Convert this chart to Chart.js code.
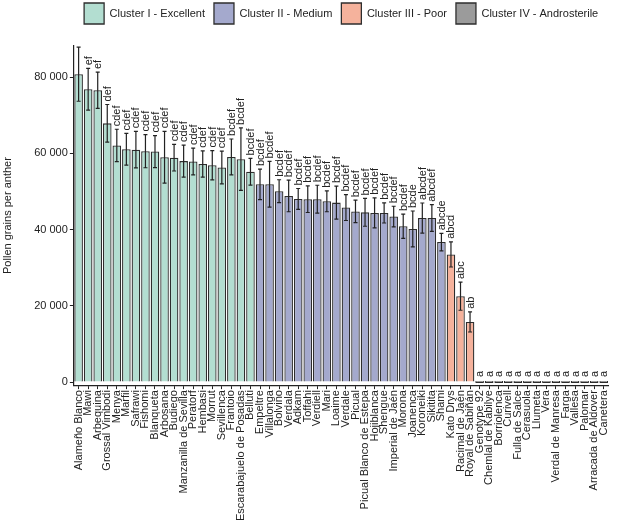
<!DOCTYPE html>
<html>
<head>
<meta charset="utf-8">
<script src="https://cdn.jsdelivr.net/npm/chart.js@4.4.1/dist/chart.umd.min.js"></script>
<style>
  body { margin: 0; background: #fff; }
  #wrap { width: 618px; height: 524px; }
</style>
</head>
<body>
<div id="wrap"><canvas id="pollenChart" width="618" height="524"></canvas></div>
<script>
// Cultivares (ordem do gráfico)
const cultivars = [
  'Alameño Blanco', 'Mawi', 'Arbequina', 'Grossal Vimbodi', 'Menya', 'Marfil', 'Safrawi', 'Fishomi',
  'Blanqueta', 'Arbosana', 'Budiego', 'Manzanilla de Sevilla', 'Peratorf', 'Hembasi', 'Morrut',
  'Sevillenca', 'Frantoio', 'Escarabajuelo de Posadas', 'Belluti',
  'Empeltre', 'Villalonga', 'Bolvino', 'Verdala', 'Adkam', 'Toffahi', 'Verdiell', 'Mari', 'Loaime',
  'Verdale', 'Picual', 'Picual Blanco de Estepa', 'Hojiblanca', 'Shengue', 'Imperial de Jaén',
  'Morona', 'Joanenca', 'Koroneiki', 'Sikitita', 'Shami',
  'Kato Drys', 'Racimal de Jaén', 'Royal de Sabiñán',
  'Genotype 92', 'Chemlal de Kabilye', 'Borriolenca', 'Curivell', 'Fulla de Salce', 'Cerasuola',
  'Llumeta', 'Vera', 'Verdal de Manresa', 'Farga', 'Vallesa', 'Palomar', 'Arracada de Aldover', 'Canetera'
];

// Cluster de cada cultivar (0 = I, 1 = II, 2 = III, 3 = IV)
const clusterOf = [
  0, 0, 0, 0, 0, 0, 0, 0, 0, 0, 0, 0, 0, 0, 0, 0, 0, 0, 0,
  1, 1, 1, 1, 1, 1, 1, 1, 1, 1, 1, 1, 1, 1, 1, 1, 1, 1, 1, 1,
  2, 2, 2,
  3, 3, 3, 3, 3, 3, 3, 3, 3, 3, 3, 3, 3, 3
];

// Média de grãos de pólen por antera
const means = [
  80800, 76850, 76600, 67900, 62100, 61100, 61000, 60600, 60500, 59000, 58900, 58000, 57900, 57250,
  56900, 56300, 59100, 58500, 55200,
  51900, 51900, 50100, 48850, 48050, 48000, 48000, 47450, 47100, 45800, 44800, 44550, 44400, 44400,
  43450, 40900, 40200, 43050, 43050, 36750,
  33500, 22550, 15800,
  0, 0, 0, 0, 0, 0, 0, 0, 0, 0, 0, 0, 0, 0
];

// Barras de erro (±)
const errors = [
  7100, 5500, 4750, 4950, 4250, 4150, 4800, 4350, 4200, 6800, 3500, 4200, 3500, 3450,
  3850, 4300, 4700, 8200, 3500,
  4000, 6000, 3000, 4150, 2750, 3500, 3650, 2750, 4350, 3400, 2950, 3650, 3950, 2650,
  2700, 3200, 4700, 3950, 3500, 2300,
  3300, 3700, 2650,
  0, 0, 0, 0, 0, 0, 0, 0, 0, 0, 0, 0, 0, 0
];

// Letras de significância
const letters = [
  'f', 'ef', 'ef', 'def', 'cdef', 'cdef', 'cdef', 'cdef', 'cdef', 'cdef', 'cdef', 'cdef', 'cdef', 'cdef',
  'cdef', 'cdef', 'bcdef', 'bcdef', 'bcdef',
  'bcdef', 'bcdef', 'bcdef', 'bcdef', 'bcdef', 'bcdef', 'bcdef', 'bcdef', 'bcdef', 'bcdef', 'bcdef',
  'bcdef', 'bcdef', 'bcdef', 'bcdef', 'bcdef', 'bcde', 'abcdef', 'abcdef', 'abcde',
  'abcd', 'abc', 'ab',
  'a', 'a', 'a', 'a', 'a', 'a', 'a', 'a', 'a', 'a', 'a', 'a', 'a', 'a'
];

const clusterNames = ['Cluster I - Excellent', 'Cluster II - Medium', 'Cluster III - Poor', 'Cluster IV - Androsterile'];
const clusterColors = ['#b3ded1', '#a4a9cd', '#f5b29c', '#9b9b9b'];

const yTicks = [0, 20000, 40000, 60000, 80000];

const FONT = '"Liberation Sans", Arial, sans-serif';
const INK = '#222222';

// Espaço extra abaixo da legenda
const legendGap = {
  id: 'legendGap',
  beforeInit(chart) {
    const fit = chart.legend.fit;
    chart.legend.fit = function () {
      fit.bind(chart.legend)();
      this.height += 12;
    };
  }
};

// Barras de erro + letras
const errorBars = {
  id: 'errorBars',
  afterDatasetsDraw(chart) {
    const { ctx, chartArea } = chart;
    const x = chart.scales.x, y = chart.scales.y;
    ctx.save();
    ctx.strokeStyle = INK;
    ctx.lineWidth = 1.2;
    means.forEach((m, i) => {
      const e = errors[i];
      if (!e) return;
      const px = x.getPixelForValue(i);
      const top = y.getPixelForValue(m + e);
      const bot = y.getPixelForValue(m - e);
      ctx.beginPath();
      ctx.moveTo(px, top); ctx.lineTo(px, bot);
      ctx.moveTo(px - 2, top); ctx.lineTo(px + 2, top);
      ctx.moveTo(px - 2, bot); ctx.lineTo(px + 2, bot);
      ctx.stroke();
    });

    ctx.beginPath();
    ctx.rect(chartArea.left, chartArea.top, chartArea.right - chartArea.left, chartArea.bottom - chartArea.top);
    ctx.clip();
    ctx.fillStyle = INK;
    ctx.font = '11px ' + FONT;
    ctx.textAlign = 'left';
    ctx.textBaseline = 'middle';
    means.forEach((m, i) => {
      const px = x.getPixelForValue(i);
      const top = y.getPixelForValue(m + errors[i]) - (errors[i] ? 3 : 5);
      ctx.save();
      ctx.translate(px + 0.5, top);
      ctx.rotate(-Math.PI / 2);
      ctx.fillText(letters[i], 0, 0);
      ctx.restore();
    });
    ctx.restore();
  }
};

const datasets = clusterNames.map((name, k) => ({
  label: name,
  data: means.map((v, i) => (clusterOf[i] === k ? v : null)),
  backgroundColor: clusterColors[k],
  borderColor: '#2e2e2e',
  borderWidth: 1.3,
  categoryPercentage: 0.9,
  barPercentage: 1,
  minBarLength: k === 3 ? 2 : 0
}));

new Chart(document.getElementById('pollenChart'), {
  type: 'bar',
  data: { labels: cultivars, datasets: datasets },
  options: {
    responsive: false,
    animation: false,
    layout: { padding: { top: -6, right: 5, left: 1, bottom: 2 } },
    plugins: {
      tooltip: { enabled: false },
      legend: {
        position: 'top',
        fullSize: false,
        align: 'center',
        labels: {
          boxWidth: 20,
          boxHeight: 21,
          padding: 9,
          color: INK,
          font: { family: FONT, size: 11 }
        }
      }
    },
    scales: {
      x: {
        stacked: true,
        grid: { display: true, drawOnChartArea: false, offset: false, tickLength: 4, color: INK },
        border: { color: INK, width: 1.2 },
        ticks: {
          minRotation: 90, maxRotation: 90, autoSkip: false, padding: 1,
          color: INK, font: { family: FONT, size: 11 }
        }
      },
      y: {
        min: -800,
        max: 88200,
        grid: { display: true, drawOnChartArea: false, tickLength: 4, color: INK },
        border: { color: INK, width: 1.2 },
        afterBuildTicks(scale) {
          scale.ticks = yTicks.map(v => ({ value: v }));
        },
        ticks: {
          padding: 2,
          color: INK,
          font: { family: FONT, size: 11 },
          callback: v => String(v).replace(/\B(?=(\d{3})+(?!\d))/g, ' ')
        },
        title: {
          display: true,
          text: 'Pollen grains per anther',
          color: INK,
          font: { family: FONT, size: 11 },
          padding: { top: 0, bottom: 18 }
        }
      }
    }
  },
  plugins: [legendGap, errorBars]
});
</script>
</body>
</html>
